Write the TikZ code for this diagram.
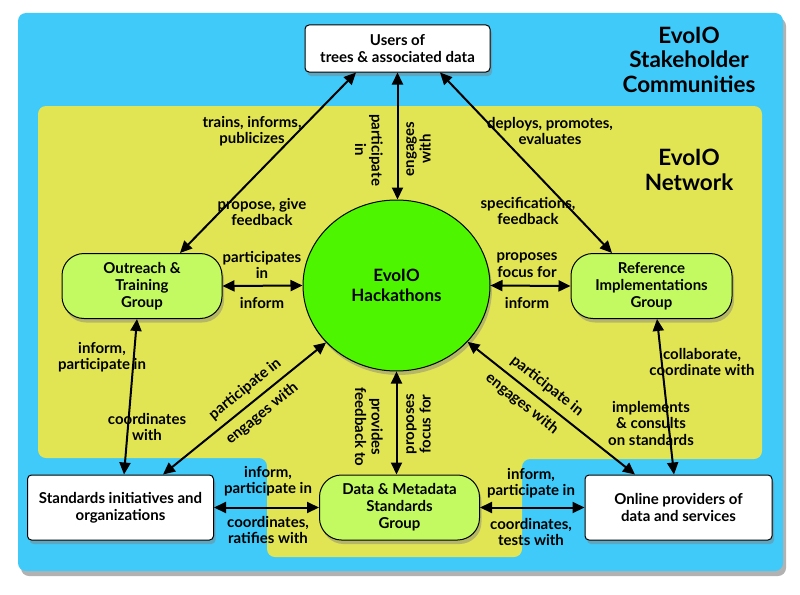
\documentclass[tikz,border=0pt]{standalone}
\usepackage{fontspec}
\setmainfont{Lato}
\usetikzlibrary{shapes.geometric,arrows.meta,shadows}
\definecolor{sky}{HTML}{3FCAFA}
\definecolor{netw}{HTML}{E2E553}
\definecolor{hackgreen}{HTML}{4DF500}
\definecolor{grpgreen}{HTML}{C3FA62}

\begin{document}
\begin{tikzpicture}[x=1pt,y=-1pt,
  font=\bfseries\fontsize{15}{17}\selectfont,
  boxshadow/.style={drop shadow={shadow xshift=2pt,shadow yshift=-4pt,opacity=.45}},
  party/.style={draw,line width=1pt,fill=white,rounded corners=4pt,
                minimum height=65pt,align=center,boxshadow},
  grpbox/.style={draw,line width=1pt,fill=grpgreen,rounded corners=22pt,
                 minimum width=160pt,minimum height=65pt,align=center,boxshadow},
  conn/.style={{Triangle[length=12pt,width=11pt]}-{Triangle[length=12pt,width=11pt]},
               line width=2pt},
  lbl/.style={align=center,inner sep=0pt,font=\bfseries\fontsize{15}{16.5}\selectfont},
  bigtitle/.style={align=center,font=\bfseries\fontsize{22.5}{24.5}\selectfont}]
\useasboundingbox (0,0) rectangle (800,594);
\fill[white] (0,0) rectangle (800,594);
\fill[black!30,rounded corners=8pt] (21,18) rectangle (786,576);
\fill[sky,rounded corners=8pt] (18,13) rectangle (783,571);
\fill[netw,rounded corners=8pt] (38,106) -- (762,106) -- (762,459) -- (522,459)
  -- (522,557) -- (267,557) -- (267,458) -- (38,458) -- cycle;
\node[bigtitle] (stake) at (689,59.5) {EvoIO\\Stakeholder\\Communities};
\node[bigtitle] (network) at (689,170) {EvoIO\\Network};

\node[party,minimum width=185pt,minimum height=47pt] (users) at (397.5,48.5) {Users of\\trees \& associated data};
\node[ellipse,draw,line width=1pt,fill=hackgreen,minimum width=187pt,minimum height=171pt,
      align=center,boxshadow,font=\bfseries\fontsize{17}{19.5}\selectfont] (hack) at (396.5,285.5) {EvoIO\\Hackathons};
\node[grpbox] (outreach) at (142,286) {Outreach \&\\Training\\Group};
\node[grpbox,minimum width=161pt] (refimpl) at (651.5,286) {Reference\\Implementations\\Group};
\node[party,minimum width=186pt] (stds) at (120.5,507.5) {Standards initiatives and\\organizations};
\node[grpbox] (dms) at (399.5,507.5) {Data \& Metadata\\Standards\\Group};
\node[party,minimum width=187pt] (online) at (678.5,507.5) {Online providers of\\data and services};

\draw[conn] ([xshift=-41.5pt]users.south) -- ([xshift=38pt]outreach.north);
\draw[conn] ([xshift=42.5pt]users.south) -- ([xshift=-39.5pt]refimpl.north);
\draw[conn] (users.south) -- (users.south |- hack.north);
\draw[conn] (hack.south) -- (hack.south |- dms.north);
\draw[conn] (outreach.east) -- (hack.west);
\draw[conn] (hack.east) -- (refimpl.west);
\draw[conn] ([xshift=-5pt]outreach.south) -- ([xshift=3.5pt]stds.north);
\draw[conn] ([xshift=5.5pt]refimpl.south) -- ([xshift=-4.5pt]online.north);
\draw[conn] ([xshift=42.5pt]stds.north) -- (hack)
  node[lbl,sloped,pos=.56,above=7pt] (l-spart) {participate in}
  node[lbl,sloped,pos=.55,below=7pt] (l-seng) {engages with};
\draw[conn] (hack) -- ([xshift=-43.5pt]online.north)
  node[lbl,sloped,pos=.42,above=7pt] (l-opart) {participate in}
  node[lbl,sloped,pos=.38,below=7pt] (l-oeng) {engages with};
\draw[conn] (stds.east) -- (dms.west);
\draw[conn] (dms.east) -- (online.west);

\node[lbl,rotate=-90] (l-pin) at (369,150) {participate\\in};
\node[lbl,rotate=90] (l-eng) at (418.5,149) {engages\\with};
\node[lbl,rotate=-90] (l-prov) at (369,427) {provides\\feedback to};
\node[lbl,rotate=90] (l-prop) at (418.5,424) {proposes\\focus for};
\node[lbl] (l-trains) at (252,131) {trains, informs,\\publicizes};
\node[lbl] (l-deploy) at (550,131) {deploys, promotes,\\evaluates};
\node[lbl] (l-propose) at (262,212) {propose, give\\feedback};
\node[lbl] (l-spec) at (528,211) {specifications,\\feedback};
\node[lbl] (l-partin) at (262,265) {participates\\in};
\node[lbl] (l-inf1) at (262,303) {inform};
\node[lbl] (l-focus) at (527,265) {proposes\\focus for};
\node[lbl] (l-inf2) at (527,303) {inform};
\node[lbl] (l-infpart1) at (102,357) {inform,\\participate in};
\node[lbl] (l-coordw) at (147,427) {coordinates\\with};
\node[lbl] (l-collab) at (702,362) {collaborate,\\coordinate with};
\node[lbl] (l-impl) at (651,423) {implements\\\& consults\\on standards};
\node[lbl] (l-infpart2) at (268,481) {inform,\\participate in};
\node[lbl] (l-ratify) at (268,530) {coordinates,\\ratifies with};
\node[lbl] (l-infpart3) at (531,483) {inform,\\participate in};
\node[lbl] (l-tests) at (531,532) {coordinates,\\tests with};
\end{tikzpicture}
\end{document}
